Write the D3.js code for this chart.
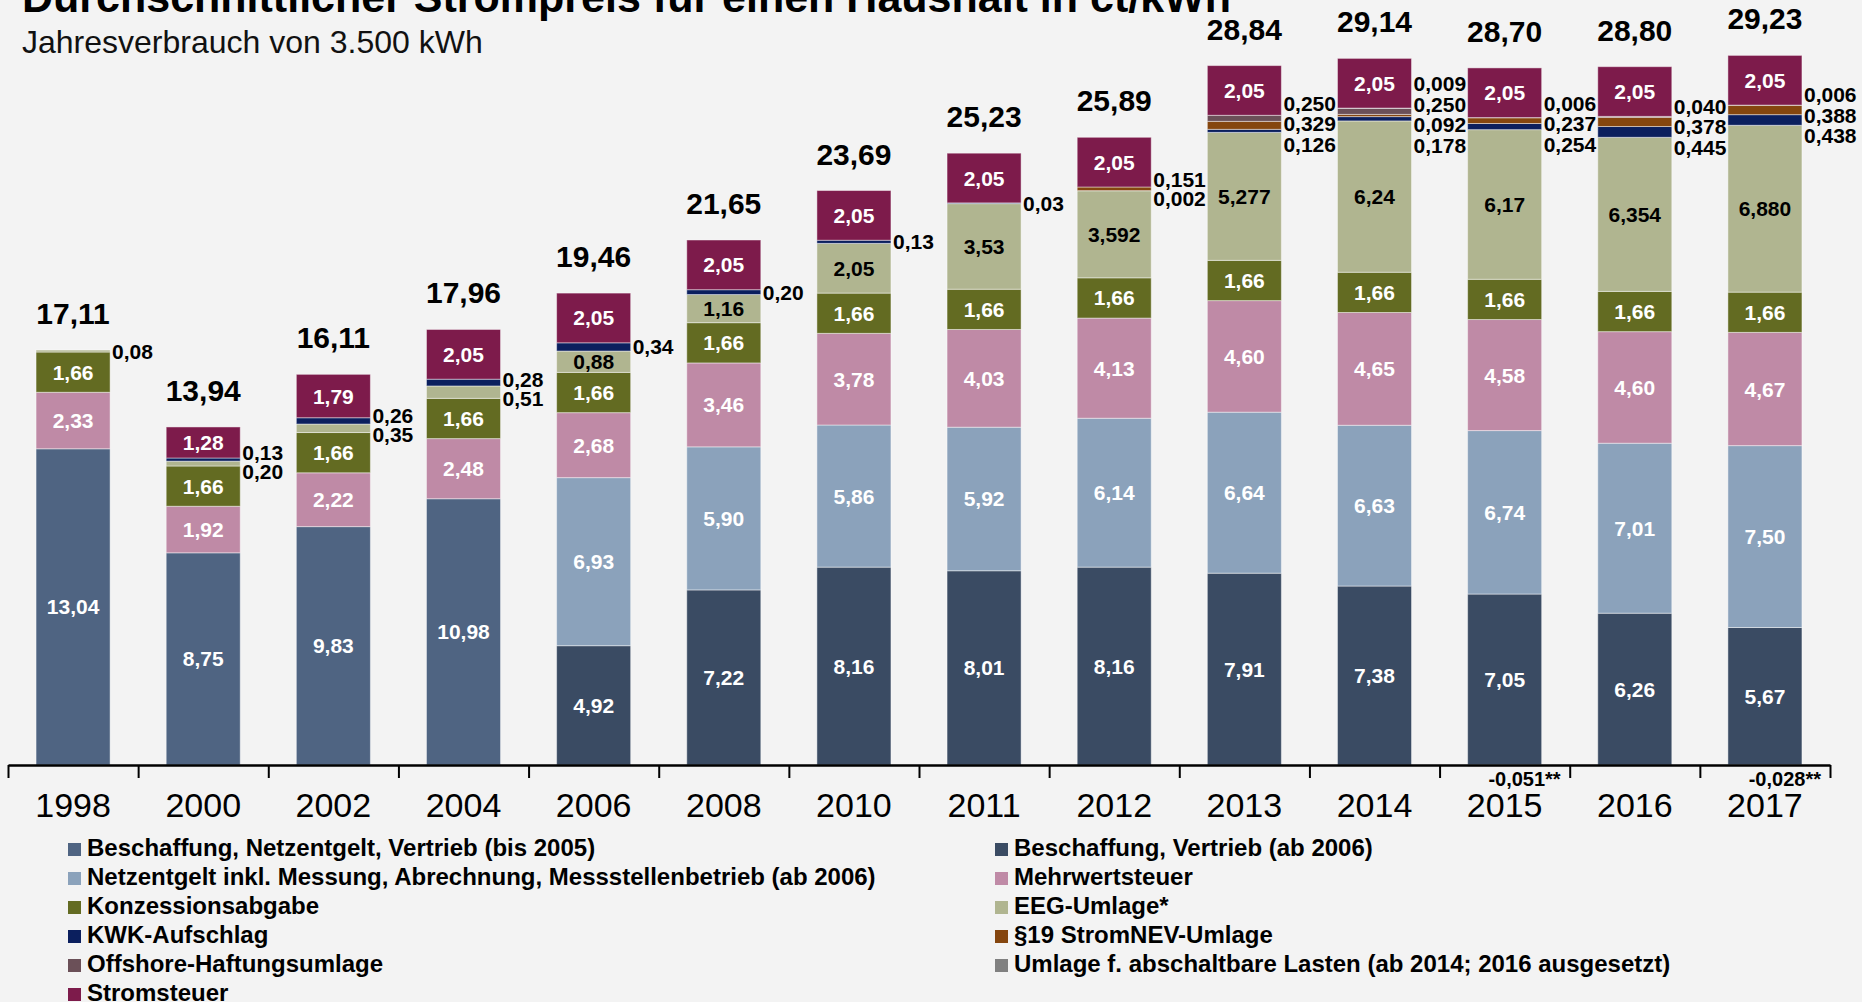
<!DOCTYPE html>
<html>
<head>
<meta charset="utf-8">
<script src="https://cdn.jsdelivr.net/npm/d3@7"></script>
<style>
  body { margin: 0; background: #f3f3f3; }
  svg { display: block; font-family: "Liberation Sans", Arial, sans-serif; }
</style>
</head>
<body>
<div id="container"></div>
<script>
// categories
const years = ["1998", "2000", "2002", "2004", "2006", "2008", "2010", "2011", "2012", "2013", "2014", "2015", "2016", "2017"];

// series values in ct/kWh (stack order, bottom to top)
const beschaffungBis2005 = [13.04, 8.75, 9.83, 10.98, 0, 0, 0, 0, 0, 0, 0, 0, 0, 0];
const beschaffungAb2006 = [0, 0, 0, 0, 4.92, 7.22, 8.16, 8.01, 8.16, 7.91, 7.38, 7.05, 6.26, 5.67];
const netzentgelt = [0, 0, 0, 0, 6.93, 5.90, 5.86, 5.92, 6.14, 6.64, 6.63, 6.74, 7.01, 7.50];
const mehrwertsteuer = [2.33, 1.92, 2.22, 2.48, 2.68, 3.46, 3.78, 4.03, 4.13, 4.60, 4.65, 4.58, 4.60, 4.67];
const konzession = [1.66, 1.66, 1.66, 1.66, 1.66, 1.66, 1.66, 1.66, 1.66, 1.66, 1.66, 1.66, 1.66, 1.66];
const eegUmlage = [0.08, 0.20, 0.35, 0.51, 0.88, 1.16, 2.05, 3.53, 3.592, 5.277, 6.24, 6.17, 6.354, 6.880];
const kwkAufschlag = [0, 0.13, 0.26, 0.28, 0.34, 0.20, 0.13, 0.03, 0.002, 0.126, 0.178, 0.254, 0.445, 0.438];
const stromNev = [0, 0, 0, 0, 0, 0, 0, 0, 0.151, 0.329, 0.092, 0.237, 0.378, 0.388];
const offshore = [0, 0, 0, 0, 0, 0, 0, 0, 0, 0.250, 0.250, -0.051, 0.040, -0.028];
const abschaltbar = [0, 0, 0, 0, 0, 0, 0, 0, 0, 0, 0.009, 0.006, 0, 0.006];
const stromsteuer = [0, 1.28, 1.79, 2.05, 2.05, 2.05, 2.05, 2.05, 2.05, 2.05, 2.05, 2.05, 2.05, 2.05];

// printed totals
const totals = ["17,11", "13,94", "16,11", "17,96", "19,46", "21,65", "23,69", "25,23", "25,89", "28,84", "29,14", "28,70", "28,80", "29,23"];

// decimals used in the printed labels
const eegDigits = [2, 2, 2, 2, 2, 2, 2, 2, 3, 3, 2, 2, 3, 3];
const levyDigits = [2, 2, 2, 2, 2, 2, 2, 2, 3, 3, 3, 3, 3, 3];

const series = [
  {key: "bis2005", name: "Beschaffung, Netzentgelt, Vertrieb (bis 2005)", values: beschaffungBis2005, color: "#4f6482"},
  {key: "ab2006", name: "Beschaffung, Vertrieb (ab 2006)", values: beschaffungAb2006, color: "#3a4b63"},
  {key: "netz", name: "Netzentgelt inkl. Messung, Abrechnung, Messstellenbetrieb (ab 2006)", values: netzentgelt, color: "#8ba2bb"},
  {key: "mwst", name: "Mehrwertsteuer", values: mehrwertsteuer, color: "#bf8aa6"},
  {key: "konz", name: "Konzessionsabgabe", values: konzession, color: "#636b22"},
  {key: "eeg", name: "EEG-Umlage*", values: eegUmlage, color: "#b0b590"},
  {key: "kwk", name: "KWK-Aufschlag", values: kwkAufschlag, color: "#0b1f5e"},
  {key: "nev", name: "§19 StromNEV-Umlage", values: stromNev, color: "#85460f"},
  {key: "off", name: "Offshore-Haftungsumlage", values: offshore, color: "#6b5058"},
  {key: "absch", name: "Umlage f. abschaltbare Lasten (ab 2014; 2016 ausgesetzt)", values: abschaltbar, color: "#808080"},
  {key: "steuer", name: "Stromsteuer", values: stromsteuer, color: "#7d1b4b"}
];

const width = 1862, height = 1002;
const baseY = 765;

const rows = years.map((y, i) => {
  const r = {year: y, idx: i};
  series.forEach(s => r[s.key] = s.values[i]);
  return r;
});

const stacked = d3.stack()
  .keys(series.map(s => s.key))
  .offset(d3.stackOffsetDiverging)(rows);

const x = d3.scaleBand()
  .domain(years)
  .range([8, 1830])
  .paddingInner(0.431)
  .paddingOuter(0.2155);

const y = d3.scaleLinear()
  .domain([0, 30])
  .range([baseY, baseY - 30 * 24.25]);

const fmt = (v, d) => v.toFixed(d).replace(".", ",");
const digitsFor = (key, i) => key === "eeg" ? eegDigits[i] : (["kwk", "nev", "off", "absch"].includes(key) ? levyDigits[i] : 2);

const svg = d3.select("#container")
  .append("svg")
    .attr("width", width)
    .attr("height", height);

svg.append("rect").attr("width", width).attr("height", height).attr("fill", "#f3f3f3");

// title + subtitle (title is cut off at the top, as in the original)
svg.append("text")
  .attr("x", 22).attr("y", 12)
  .attr("font-size", 43).attr("font-weight", "bold").attr("fill", "#000")
  .text("Durchschnittlicher Strompreis für einen Haushalt in ct/kWh");
svg.append("text")
  .attr("x", 22).attr("y", 53)
  .attr("font-size", 32).attr("fill", "#111")
  .text("Jahresverbrauch von 3.500 kWh");

// bars
const layers = svg.append("g")
  .selectAll("g")
  .data(stacked)
  .join("g")
    .attr("fill", (d, i) => series[i].color);

layers.selectAll("rect")
  .data(d => d.filter(p => p[1] - p[0] > 0))
  .join("rect")
    .attr("x", d => x(d.data.year))
    .attr("y", d => y(d[1]))
    .attr("width", x.bandwidth())
    .attr("height", d => y(d[0]) - y(d[1]))
    .attr("stroke", "rgba(255,255,255,0.45)")
    .attr("stroke-width", 1);

// labels inside the bars
const labelG = svg.append("g").attr("font-size", 21).attr("font-weight", "bold");
stacked.forEach((layer, si) => {
  const key = series[si].key;
  layer.forEach((p, i) => {
    const v = series[si].values[i];
    if (v < 0.6) return;
    labelG.append("text")
      .attr("x", x(p.data.year) + x.bandwidth() / 2)
      .attr("y", (y(p[0]) + y(p[1])) / 2 + 7.5)
      .attr("text-anchor", "middle")
      .attr("fill", key === "eeg" ? "#000" : "#fff")
      .text(fmt(v, digitsFor(key, i)));
  });
});

// small values as a column to the right of each bar
years.forEach((yr, i) => {
  const small = [];
  stacked.forEach((layer, si) => {
    const v = series[si].values[i];
    if (v > 0 && v < 0.6) small.push({v: v, key: series[si].key, p: layer[i]});
  });
  if (!small.length) return;
  const center = (y(small[0].p[0]) + y(small[small.length - 1].p[1])) / 2;
  const gap = small.length > 2 ? 20.5 : 19;
  const n = small.length;
  small.slice().reverse().forEach((s, k) => {
    labelG.append("text")
      .attr("x", x(yr) + x.bandwidth() + 2)
      .attr("y", center + (k - (n - 1) / 2) * gap + 7.5)
      .attr("fill", "#000")
      .text(fmt(s.v, digitsFor(s.key, i)));
  });
});

// negative values below the axis
series.forEach(s => {
  s.values.forEach((v, i) => {
    if (v >= 0) return;
    svg.append("text")
      .attr("x", x(years[i]) + x.bandwidth() + 19)
      .attr("y", 786)
      .attr("text-anchor", "end")
      .attr("font-size", 20).attr("font-weight", "bold").attr("fill", "#000")
      .text(fmt(v, digitsFor(s.key, i)) + "**");
  });
});

// totals on top
svg.append("g")
  .selectAll("text")
  .data(rows)
  .join("text")
    .attr("x", d => x(d.year) + x.bandwidth() / 2)
    .attr("y", d => y(d3.max(stacked, l => l[d.idx][1])) - 26)
    .attr("text-anchor", "middle")
    .attr("font-size", 30).attr("font-weight", "bold").attr("fill", "#000")
    .text(d => totals[d.idx]);

// axis with ticks between the categories
const edges = d3.scaleLinear().domain([0, years.length]).range([8, 1830]);
const tickAxis = svg.append("g")
  .attr("transform", `translate(0,${baseY})`)
  .call(d3.axisBottom(edges)
    .tickValues(d3.range(years.length + 1))
    .tickSize(13)
    .tickSizeOuter(0)
    .tickFormat(""));
tickAxis.select(".domain").attr("stroke", "#000").attr("stroke-width", 2.5);
tickAxis.selectAll(".tick line").attr("stroke", "#000").attr("stroke-width", 2);

const yearAxis = svg.append("g")
  .attr("transform", `translate(0,${baseY})`)
  .call(d3.axisBottom(x).tickSize(0).tickPadding(28));
yearAxis.select(".domain").remove();
yearAxis.selectAll("text")
  .attr("font-size", 34)
  .attr("font-family", "\"Liberation Sans\", Arial, sans-serif")
  .attr("fill", "#000");

// legend, two columns
const legend = svg.append("g")
  .selectAll("g")
  .data(series)
  .join("g")
    .attr("transform", (d, i) => `translate(${i % 2 ? 995 : 68},${843 + Math.floor(i / 2) * 29})`);
legend.append("rect")
  .attr("width", 13).attr("height", 13)
  .attr("fill", d => d.color);
legend.append("text")
  .attr("x", 19).attr("y", 13)
  .attr("font-size", 24).attr("font-weight", "bold").attr("fill", "#000")
  .text(d => d.name);
</script>
</body>
</html>
